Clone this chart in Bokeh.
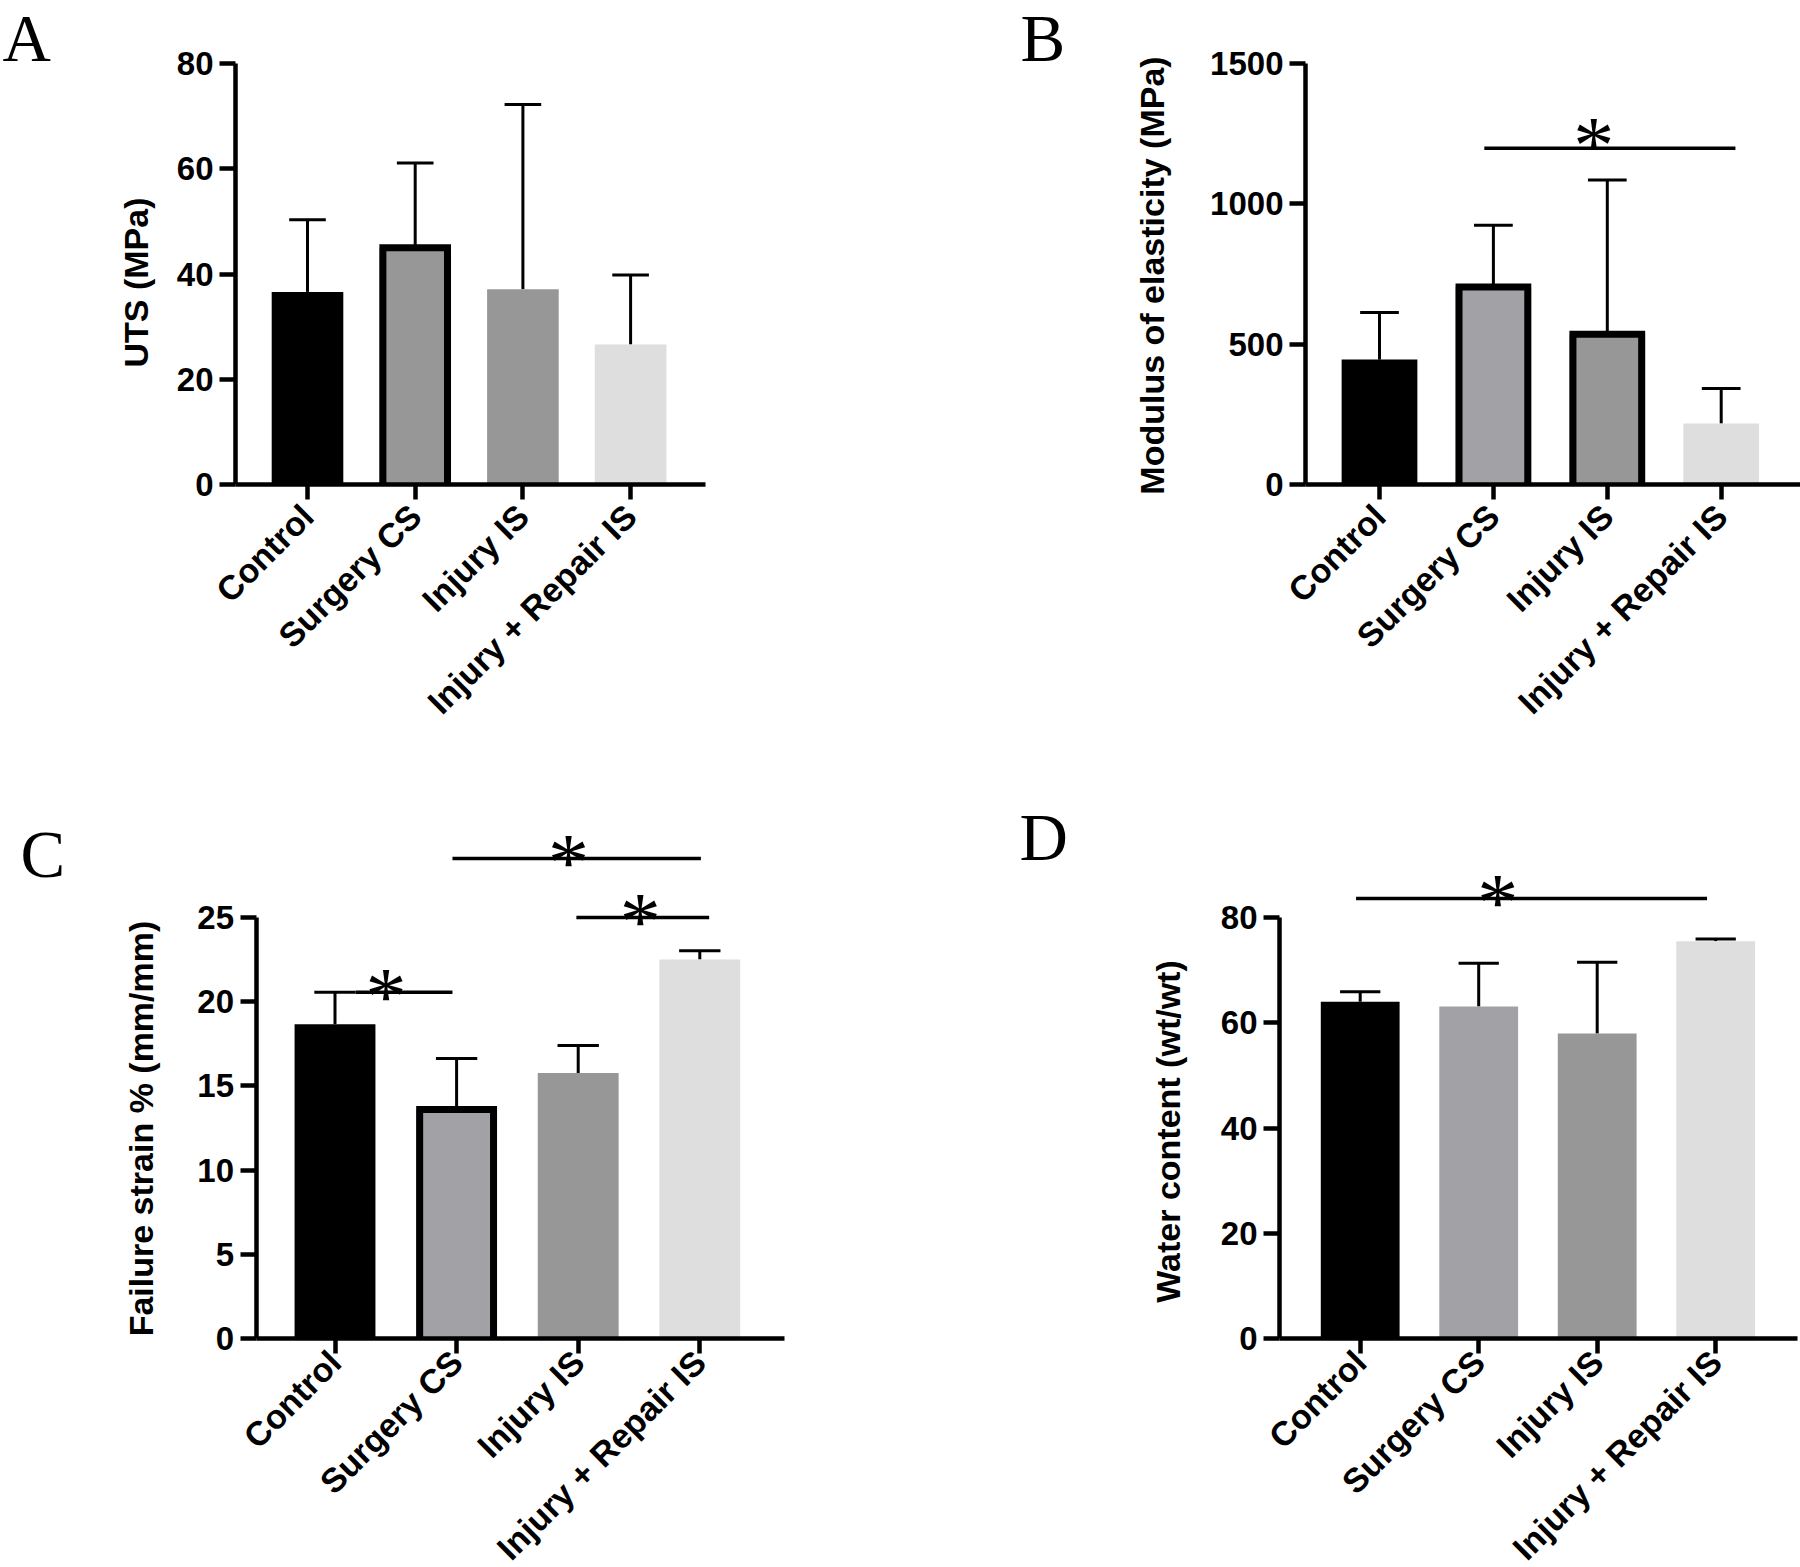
import math
from bokeh.plotting import figure
from bokeh.models import Range1d, FixedTicker, Label, ColumnDataSource
from bokeh.layouts import column, row
from bokeh.embed import file_html
from bokeh.resources import INLINE
from bokeh.core.properties import value

# ---------------- data ----------------
categories = ["Control", "Surgery CS", "Injury IS", "Injury + Repair IS"]
positions = [1, 2, 3, 4]

uts_mean = [36.6, 45.0, 37.1, 26.6]
uts_err_top = [50.3, 61.1, 72.2, 39.8]

modulus_mean = [445, 704, 535, 217]
modulus_err_top = [613, 924, 1085, 342]

strain_mean = [18.66, 13.6, 15.76, 22.5]
strain_err_top = [20.56, 16.62, 17.4, 23.02]

water_mean = [64.0, 63.1, 57.95, 75.5]
water_err_top = [65.9, 71.3, 71.5, 75.9]

# significance brackets: (from, to, height) and star positions
sig_B = [(1.92, 4.125, 1198)]
sig_C = [(1.966, 4.009, 28.5), (2.985, 4.077, 25.0), (1.17, 1.966, 20.56)]
sig_D = [(0.965, 3.927, 83.6)]
star_B = [(2.88, 1222)]
star_C = [(2.92, 28.5), (3.51, 25.0), (1.42, 20.56)]
star_D = [(2.16, 83.6)]

FONT = "Liberation Sans"
SERIF = "Liberation Serif"

gray_a = "#979797"
gray_b = "#a2a1a6"
light = "#dedede"


def panel(canvas, yaxis_px, first_px, spacing, xend_px, zero_py, top_py, ymax, y_ticks,
          ylabel, ylabel_pos, means, tops, fills, borders, sigs, stars, letter, letter_pos,
          xlabel_standoff):
    cl, ct, W, H = canvas
    xs = 1 - (first_px - cl) / spacing
    xe = xs + W / spacing
    ppu = (zero_py - top_py) / ymax
    ys = -(ct + H - zero_py) / ppu
    ye = (zero_py - ct) / ppu

    def X(px):
        return xs + (px - cl) / spacing

    def Y(py):
        return (zero_py - py) / ppu

    p = figure(width=W, height=H, x_range=Range1d(xs, xe), y_range=Range1d(ys, ye),
               output_backend="svg", toolbar_location=None, title=None, min_border=0)
    p.outline_line_color = None
    p.grid.visible = False
    p.background_fill_color = "white"
    p.border_fill_color = "white"

    # x axis
    xa = p.xaxis[0]
    xa.fixed_location = 0
    xa.bounds = (X(yaxis_px), X(xend_px))
    xa.ticker = FixedTicker(ticks=positions)
    xa.major_label_overrides = {pos: cat for pos, cat in zip(positions, categories)}
    xa.major_label_orientation = math.pi / 4
    xa.major_label_text_font = FONT
    xa.major_label_text_font_style = "bold"
    xa.major_label_text_font_size = "34px"
    xa.major_label_text_color = "black"
    xa.major_label_standoff = xlabel_standoff
    xa.axis_line_width = 4.5
    xa.axis_line_color = "black"
    xa.major_tick_line_width = 4.5
    xa.major_tick_out = 15
    xa.major_tick_in = 0
    xa.minor_tick_line_color = None

    # y axis
    ya = p.yaxis[0]
    ya.fixed_location = X(yaxis_px)
    ya.bounds = (0, ymax)
    ya.ticker = FixedTicker(ticks=y_ticks)
    ya.major_label_text_font = FONT
    ya.major_label_text_font_style = "bold"
    ya.major_label_text_font_size = "33px"
    ya.major_label_text_color = "black"
    ya.major_label_standoff = 6
    ya.axis_line_width = 4.5
    ya.axis_line_color = "black"
    ya.major_tick_line_width = 4.5
    ya.major_tick_out = 16
    ya.major_tick_in = 0
    ya.minor_tick_line_color = None

    # y axis title
    p.add_layout(Label(x=X(ylabel_pos[0]), y=Y(ylabel_pos[1]), text=ylabel, angle=math.pi / 2,
                       text_font=FONT, text_font_style="bold", text_font_size="34px",
                       text_align="center", text_baseline="middle", text_color="black"))

    bar_w = 0.665
    half_cap = 0.17
    lw_border = 7

    # error bars
    err = ColumnDataSource(dict(x=positions, m=means, t=tops,
                                xl=[x - half_cap for x in positions],
                                xr=[x + half_cap for x in positions]))
    p.segment(x0="x", y0="m", x1="x", y1="t", source=err, line_width=3, line_color="black")
    p.segment(x0="xl", y0="t", x1="xr", y1="t", source=err, line_width=3, line_color="black")

    # bars (fill)
    bars = ColumnDataSource(dict(x=positions, top=means, c=fills))
    p.vbar(x="x", top="top", bottom=0, width=bar_w, fill_color="c", line_color=None,
           source=bars)
    # thick outlines of the outlined bars (left, top, right sides)
    half_in = (bar_w - lw_border / spacing) / 2
    ox = [[x - half_in, x - half_in, x + half_in, x + half_in]
          for x, b in zip(positions, borders) if b]
    oy = [[0, m, m, 0] for m, b in zip(means, borders) if b]
    if ox:
        p.multi_line(xs=ox, ys=oy, line_width=lw_border, line_color="black",
                     line_join="miter")

    # significance
    if sigs:
        s = ColumnDataSource(dict(x0=[a for a, b, h in sigs], x1=[b for a, b, h in sigs],
                                  y=[h for a, b, h in sigs]))
        p.segment(x0="x0", y0="y", x1="x1", y1="y", source=s, line_width=3.5,
                  line_color="black")
    if stars:
        st = ColumnDataSource(dict(x=[a for a, h in stars], y=[h for a, h in stars],
                                   t=["*"] * len(stars)))
        p.text(x="x", y="y", text="t", source=st, text_font=value(SERIF),
               text_font_size="82px", text_align="center", text_baseline="middle",
               y_offset=4, text_color="black")

    # panel letter
    p.add_layout(Label(x=X(letter_pos[0]), y=Y(letter_pos[1]), text=letter, text_font=SERIF,
                       text_font_size="67px", text_align="left",
                       text_baseline="alphabetic", text_color="black"))
    return p


pA = panel((0, 0, 1000, 800), 235, 307, 107.7, 705, 484, 63, 80, [0, 20, 40, 60, 80],
           "UTS (MPa)", (135, 282), uts_mean, uts_err_top,
           ["black", gray_a, gray_a, light], [False, True, False, False],
           [], [], "A", (2, 37), 11)
pB = panel((1000, 0, 800, 800), 1305, 1379, 113.9, 1800, 484, 63, 1500,
           [0, 500, 1000, 1500], "Modulus of elasticity (MPa)", (1151, 275), modulus_mean,
           modulus_err_top, ["black", gray_b, gray_a, light], [False, True, True, False],
           sig_B, star_B, "B", (1020, 37), 11)
pC = panel((0, 800, 1000, 767), 255.5, 334.5, 121.6, 784, 1338, 917, 25,
           [0, 5, 10, 15, 20, 25], "Failure strain % (mm/mm)", (140, 1128), strain_mean,
           strain_err_top, ["black", gray_b, gray_a, light], [False, True, False, False],
           sig_C, star_C, "C", (20, 853), 3)
pD = panel((1000, 800, 800, 767), 1279, 1359.7, 118.5, 1797, 1338, 917, 80,
           [0, 20, 40, 60, 80], "Water content (wt/wt)", (1167, 1131), water_mean,
           water_err_top, ["black", gray_b, gray_a, light], [False, False, False, False],
           sig_D, star_D, "D", (1019, 836), 3)

layout = column(row(pA, pB), row(pC, pD))
open("out.html", "w").write(file_html(layout, INLINE))
